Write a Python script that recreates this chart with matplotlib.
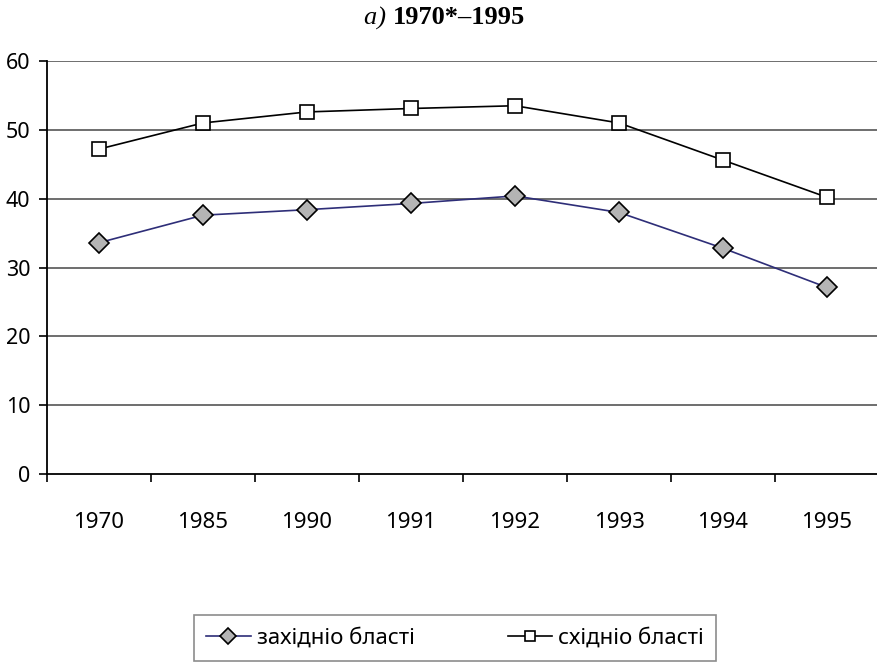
import matplotlib
matplotlib.use("Agg")
import matplotlib.pyplot as plt
import numpy as np

years = ["1970", "1985", "1990", "1991", "1992", "1993", "1994", "1995"]
west = [33.6, 37.6, 38.4, 39.3, 40.4, 38.0, 32.8, 27.1]
east = [47.2, 51.0, 52.6, 53.1, 53.5, 51.0, 45.6, 40.2]
west_label = "західніо бласті"
east_label = "східніо бласті"
yticks = [0, 10, 20, 30, 40, 50, 60]

W, H = 878, 665
fig = plt.figure(figsize=(W / 100, H / 100), dpi=100)
ax = fig.add_axes([47 / W, 1 - 474 / H, (879 - 47) / W, (474 - 61) / H])

x = np.arange(len(years))
l1, = ax.plot(x, west, color="#2e2e78", lw=1.2, marker="D", ms=10.5,
              mfc="#b4b4b4", mec="black", mew=1.2, label=west_label, zorder=3)
l2, = ax.plot(x, east, color="black", lw=1.2, marker="s", ms=10,
              mfc="white", mec="black", mew=1.2, label=east_label, zorder=3)

ax.set_xlim(-0.5, len(years) - 0.5)
ax.set_ylim(0, 60)
ax.set_yticks(yticks)
ax.set_yticklabels([str(v) for v in yticks], family="Noto Sans", fontsize=15.5)
for v in yticks[1:]:
    ax.axhline(v, color="#555555", lw=1.2, zorder=1)

ax.set_xticks(np.arange(-0.5, len(years), 1.0))
ax.set_xticklabels([])
ax.set_xticks(x, minor=True)
ax.set_xticklabels(years, minor=True, family="Noto Sans", fontsize=16)
ax.tick_params(axis="x", which="major", direction="out", length=6, width=1.2, color="black")
ax.tick_params(axis="x", which="minor", length=0, pad=27)
ax.tick_params(axis="y", direction="out", length=6, width=1.2, pad=6)

for s in ["top", "right"]:
    ax.spines[s].set_visible(False)
for s in ["left", "bottom"]:
    ax.spines[s].set_linewidth(1.3)
    ax.spines[s].set_color("black")

fig.text(393 / W, 1 - 18 / H, "a) ", ha="right", va="center",
         family="Liberation Serif", fontsize=19, style="italic")
fig.text(393 / W, 1 - 18 / H, "1970*–1995", ha="left", va="center",
         family="Liberation Serif", fontsize=19, fontweight="bold")

leg = fig.legend(handles=[l1, l2], loc="center", ncol=2,
                 bbox_to_anchor=(455 / W, 1 - 638 / H),
                 prop={"family": "Noto Sans", "size": 16},
                 frameon=True, fancybox=False, edgecolor="#707070",
                 handlelength=2.0, handletextpad=0.27, columnspacing=4.2,
                 borderpad=0.55, borderaxespad=0, markerscale=0.75)
leg.get_frame().set_linewidth(1.2)

fig.savefig("out.png", dpi=100)
